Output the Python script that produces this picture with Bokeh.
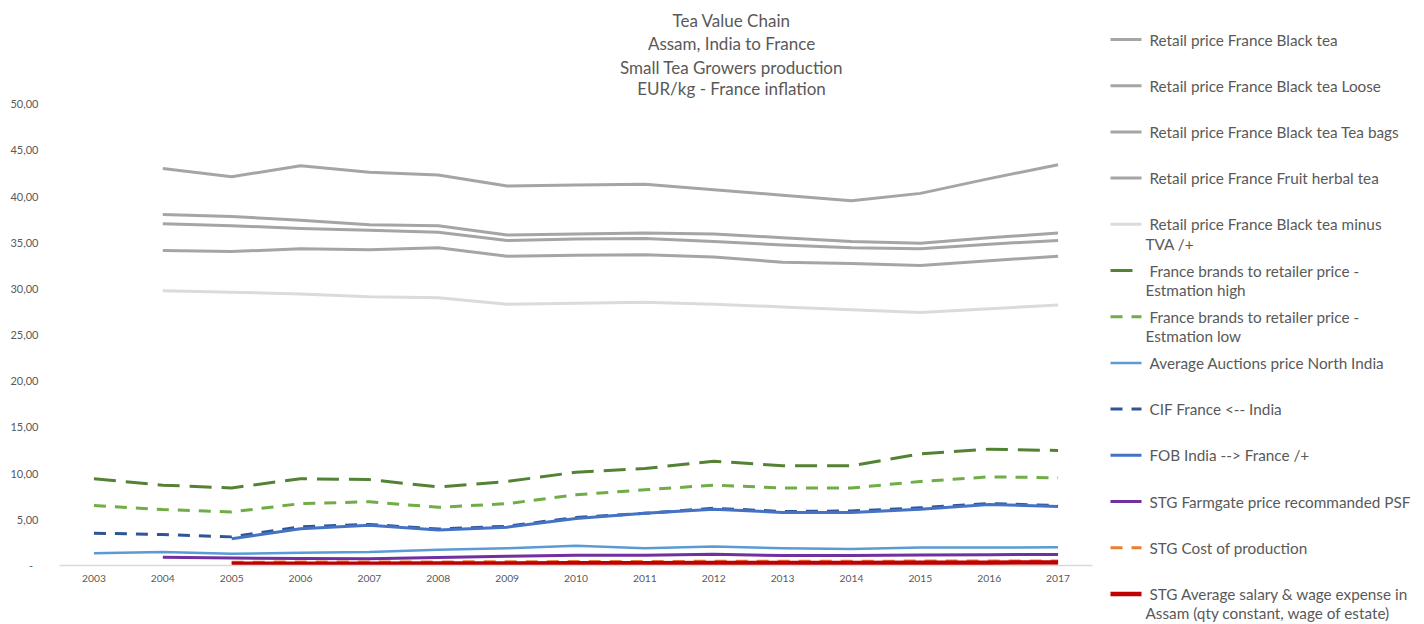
from bokeh.plotting import figure
from bokeh.layouts import row
from bokeh.models import Range1d, FixedTicker
from bokeh.core.properties import value
from bokeh.embed import file_html
from bokeh.resources import INLINE

nan = float("nan")

# ---------------- data ----------------
years = list(range(2003, 2018))

title_lines = ["Tea Value Chain", "Assam, India to France",
               "Small Tea Growers production", "EUR/kg - France inflation"]

names = [
    "Retail price France Black tea",
    "Retail price France Black tea Loose",
    "Retail price France Black tea Tea bags",
    "Retail price France Fruit herbal tea",
    "Retail price France Black tea minus\nTVA /+",
    "France brands to retailer price -\nEstmation high",
    "France brands to retailer price -\nEstmation low",
    "Average Auctions price North India",
    "CIF France <-- India",
    "FOB India --> France /+",
    "STG Farmgate price recommanded PSF",
    "STG Cost of production",
    "STG Average salary & wage expense in\nAssam (qty constant, wage of estate)",
]

retail_black_tea = [nan, 38.0, 37.8, 37.4, 36.9, 36.8, 35.8, 35.9, 36.0, 35.9, 35.5, 35.1, 34.9, 35.5, 36.0]
retail_loose = [nan, 43.0, 42.1, 43.3, 42.6, 42.3, 41.1, 41.2, 41.3, 40.7, 40.1, 39.5, 40.3, 41.9, 43.4]
retail_bags = [nan, 37.0, 36.8, 36.5, 36.3, 36.1, 35.2, 35.35, 35.4, 35.1, 34.7, 34.4, 34.3, 34.8, 35.2]
retail_fruit = [nan, 34.1, 34.0, 34.3, 34.2, 34.4, 33.5, 33.6, 33.65, 33.4, 32.85, 32.7, 32.5, 33.0, 33.5]
retail_minus_tva = [nan, 29.75, 29.6, 29.4, 29.1, 29.0, 28.3, 28.4, 28.5, 28.3, 28.0, 27.7, 27.4, 27.8, 28.2]
brands_high = [9.4, 8.7, 8.4, 9.4, 9.3, 8.5, 9.1, 10.1, 10.5, 11.3, 10.8, 10.8, 12.1, 12.6, 12.45]
brands_low = [6.5, 6.06, 5.8, 6.7, 6.9, 6.3, 6.7, 7.65, 8.2, 8.7, 8.4, 8.4, 9.1, 9.6, 9.5]
auctions = [1.33, 1.45, 1.27, 1.37, 1.45, 1.7, 1.87, 2.13, 1.87, 2.05, 1.87, 1.8, 1.95, 1.95, 1.98]
cif = [3.5, 3.35, 3.1, 4.2, 4.45, 3.95, 4.25, 5.2, 5.65, 6.2, 5.85, 5.9, 6.25, 6.7, 6.5]
fob = [nan, nan, 2.9, 3.97, 4.35, 3.85, 4.15, 5.1, 5.65, 6.1, 5.75, 5.75, 6.1, 6.6, 6.4]
farmgate = [nan, 0.9, 0.8, 0.77, 0.72, 0.87, 1.0, 1.1, 1.12, 1.22, 1.08, 1.08, 1.15, 1.17, 1.19]
cost_production = [nan, nan, 0.36, 0.37, 0.38, 0.39, 0.4, 0.43, 0.44, 0.45, 0.45, 0.46, 0.48, 0.5, 0.5]
salary_wage = [nan, nan, 0.18, 0.19, 0.2, 0.21, 0.22, 0.24, 0.25, 0.26, 0.27, 0.28, 0.3, 0.31, 0.32]

y_ticks = [0, 5, 10, 15, 20, 25, 30, 35, 40, 45, 50]
y_tick_labels = ["-\u2002", "5,00", "10,00", "15,00", "20,00", "25,00", "30,00",
                 "35,00", "40,00", "45,00", "50,00"]

# ---------------- styles ----------------
series_values = [retail_black_tea, retail_loose, retail_bags, retail_fruit, retail_minus_tva,
                 brands_high, brands_low, auctions, cif, fob, farmgate, cost_production, salary_wage]
styles = [
    ("#A5A5A5", 3, "solid"),
    ("#A5A5A5", 3, "solid"),
    ("#A5A5A5", 3, "solid"),
    ("#A5A5A5", 3, "solid"),
    ("#DBDBDB", 3, "solid"),
    ("#548235", 3, "22 10"),
    ("#70AD47", 3, "12 9"),
    ("#5B9BD5", 2.5, "solid"),
    ("#2F5597", 3, "12 9"),
    ("#4472C4", 3, "solid"),
    ("#7030A0", 3, "solid"),
    ("#ED7D31", 3, "12 9"),
    ("#C00000", 4.5, "solid"),
]

FONT = "Lato"
TXT = "#595959"

# ---------------- layout (pixels, page origin at 0,0) ----------------
W1, H = 1100, 624
BL, BR, BT = 59, 8, 0
x_start, x_end = 2002.5, 2017.5
baseline_px = 565
px_per_unit = 9.234
BB = H - baseline_px
frame_w = W1 - BL - BR
frame_h = H - BT - BB
y_end = frame_h / px_per_unit
px_per_year = frame_w / (x_end - x_start)


def page_x_to_data(px):
    return x_start + (px - BL) / px_per_year


def page_y_to_data(py):
    return (baseline_px - py) / px_per_unit


p = figure(width=W1, height=H, x_range=Range1d(x_start, x_end), y_range=Range1d(0, y_end),
           output_backend="svg", toolbar_location=None,
           min_border_left=BL, min_border_right=BR, min_border_top=BT, min_border_bottom=BB)
p.frame_align = False
p.outline_line_color = None
p.grid.visible = False
p.background_fill_color = "white"
p.border_fill_color = "white"

p.xaxis.ticker = FixedTicker(ticks=years)
p.xaxis.axis_line_color = "#D9D9D9"
p.xaxis.axis_line_width = 1.5
p.xaxis.major_tick_line_color = None
p.xaxis.minor_tick_line_color = None
p.xaxis.major_tick_out = 0
p.xaxis.major_tick_in = 0
p.xaxis.major_label_standoff = 9
p.xaxis.major_label_text_font = FONT
p.xaxis.major_label_text_font_size = "10.3px"
p.xaxis.major_label_text_color = TXT

p.yaxis.ticker = FixedTicker(ticks=y_ticks)
p.yaxis.major_label_overrides = {t: lab for t, lab in zip(y_ticks, y_tick_labels)}
p.yaxis.axis_line_color = None
p.yaxis.major_tick_line_color = None
p.yaxis.minor_tick_line_color = None
p.yaxis.major_tick_out = 0
p.yaxis.major_tick_in = 0
p.yaxis.major_label_standoff = 21
p.yaxis.major_label_text_font = FONT
p.yaxis.major_label_text_font_size = "11px"
p.yaxis.major_label_text_color = TXT

for vals, (color, width, dash) in zip(series_values, styles):
    p.line(years, vals, line_color=color, line_width=width, line_dash=dash, line_cap="butt",
           line_join="round")

# title
title_page_y = [20, 43.3, 66.7, 88.3]
p.text(x=[page_x_to_data(731)] * len(title_lines), y=[page_y_to_data(v) for v in title_page_y],
       text=title_lines, text_font=value(FONT), text_font_size="17px", text_color=TXT,
       text_align="center", text_baseline="middle")

# ---------------- legend panel ----------------
W2 = 320
leg = figure(width=W2, height=H, x_range=Range1d(0, W2), y_range=Range1d(H, 0),
             output_backend="svg", toolbar_location=None,
             x_axis_location=None, y_axis_location=None, min_border=0)
leg.frame_align = False
leg.outline_line_color = None
leg.grid.visible = False
leg.background_fill_color = "white"
leg.border_fill_color = "white"

first_y, step = 39, 46.2
tx, ty, tt = [], [], []
for i, (name, (color, width, dash)) in enumerate(zip(names, styles)):
    y = first_y + i * step
    leg.line([10, 41], [y, y], line_color=color, line_width=width, line_dash=dash, line_cap="butt")
    parts = name.split("\n")
    tx.append(49); ty.append(y); tt.append(parts[0])
    for j, part in enumerate(parts[1:]):
        tx.append(45); ty.append(y + 19.5 * (j + 1)); tt.append(part)
leg.text(x=tx, y=ty, text=tt, text_font=value(FONT), text_font_size="15.3px", text_color=TXT,
         text_align="left", text_baseline="middle")

layout = row(p, leg)
open("out.html", "w").write(file_html(layout, INLINE))
